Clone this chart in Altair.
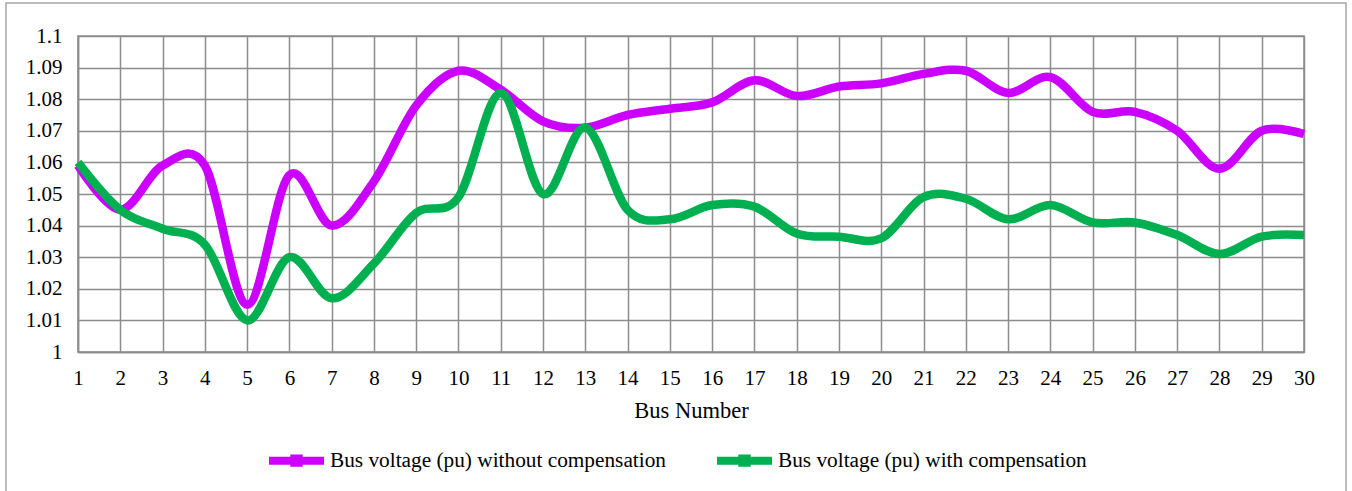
import altair as alt
import pandas as pd

buses = list(range(1, 31))
without_comp = [1.059, 1.045, 1.059, 1.059, 1.015, 1.056, 1.040, 1.054, 1.078, 1.089,
                1.083, 1.073, 1.071, 1.075, 1.077, 1.079, 1.086, 1.081, 1.084, 1.085,
                1.088, 1.089, 1.082, 1.087, 1.076, 1.076, 1.070, 1.058, 1.070, 1.069]
with_comp = [1.060, 1.045, 1.039, 1.034, 1.010, 1.030, 1.017, 1.028, 1.044, 1.049,
             1.082, 1.050, 1.071, 1.045, 1.042, 1.0465, 1.046, 1.0375, 1.0365, 1.036,
             1.049, 1.0485, 1.042, 1.0465, 1.041, 1.041, 1.037, 1.031, 1.0365, 1.037]
series_names = ["Bus voltage (pu) without compensation", "Bus voltage (pu) with compensation"]
series_colors = ["#CC00FF", "#00B050"]
y_ticks = [round(1 + i * 0.01, 2) for i in range(11)]

df_without = pd.DataFrame({"Bus": buses, "Voltage": without_comp, "Series": series_names[0]})
df_with = pd.DataFrame({"Bus": buses, "Voltage": with_comp, "Series": series_names[1]})

FONT = "Liberation Serif"
GRID = "#8c8c8c"

legend_symbol = "M-1,0 L1,0 M-0.08,-0.08 L0.08,-0.08 L0.08,0.08 L-0.08,0.08 Z"

x_enc = alt.X("Bus:Q",
              scale=alt.Scale(domain=[1, 30], nice=False, zero=False),
              axis=alt.Axis(values=buses, title="Bus Number", grid=True, ticks=False,
                            labelPadding=15, titlePadding=11, format="d",
                            labelFlush=False, labelOverlap=False, labelBound=False))
y_enc = alt.Y("Voltage:Q",
              scale=alt.Scale(domain=[1.0, 1.1], nice=False, zero=False),
              axis=alt.Axis(values=y_ticks, title=None, grid=True, ticks=False,
                            labelPadding=16, labelFlush=False, labelOverlap=False,
                            labelExpr="format(datum.value, '~g')"))
color_enc = alt.Color("Series:N",
                      scale=alt.Scale(domain=series_names, range=series_colors),
                      legend=alt.Legend(title=None, orient="none", direction="horizontal",
                                        legendX=187, legendY=393,
                                        symbolType=legend_symbol, symbolSize=3025,
                                        symbolStrokeWidth=8, labelOffset=2,
                                        columnPadding=35, labelFontSize=21.3,
                                        labelFont=FONT, labelColor="#000000",
                                        labelLimit=500))

line_without = alt.Chart(df_without).mark_line(
    strokeWidth=8.5, interpolate="cardinal", tension=0
).encode(x=x_enc, y=y_enc, color=color_enc)

line_with = alt.Chart(df_with).mark_line(
    strokeWidth=8.5, interpolate="cardinal", tension=0
).encode(x=x_enc, y=y_enc, color=color_enc)

frame = alt.Chart(alt.Data(values=[{"k": 1}])).mark_rect(
    fill=None, stroke="#a6a6a6", strokeWidth=1.5
).encode(x=alt.value(-72), x2=alt.value(1268), y=alt.value(-33), y2=alt.value(470))

chart = alt.layer(frame, line_without, line_with).properties(
    width=1226, height=316,
    autosize=alt.AutoSizeParams(type="none"),
    padding={"left": 78, "top": 36, "right": 48, "bottom": 139},
    background="white",
).configure_view(
    stroke=GRID, strokeWidth=1.5
).configure_axis(
    gridColor=GRID, gridWidth=1.5, gridOpacity=1,
    domainColor=GRID, domainWidth=1.5,
    labelFont=FONT, labelFontSize=21, labelColor="#000000",
    titleFont=FONT, titleFontSize=22.5, titleColor="#000000", titleFontWeight="normal",
)

chart.save("out.html", embed_options={"renderer": "svg", "actions": False})
